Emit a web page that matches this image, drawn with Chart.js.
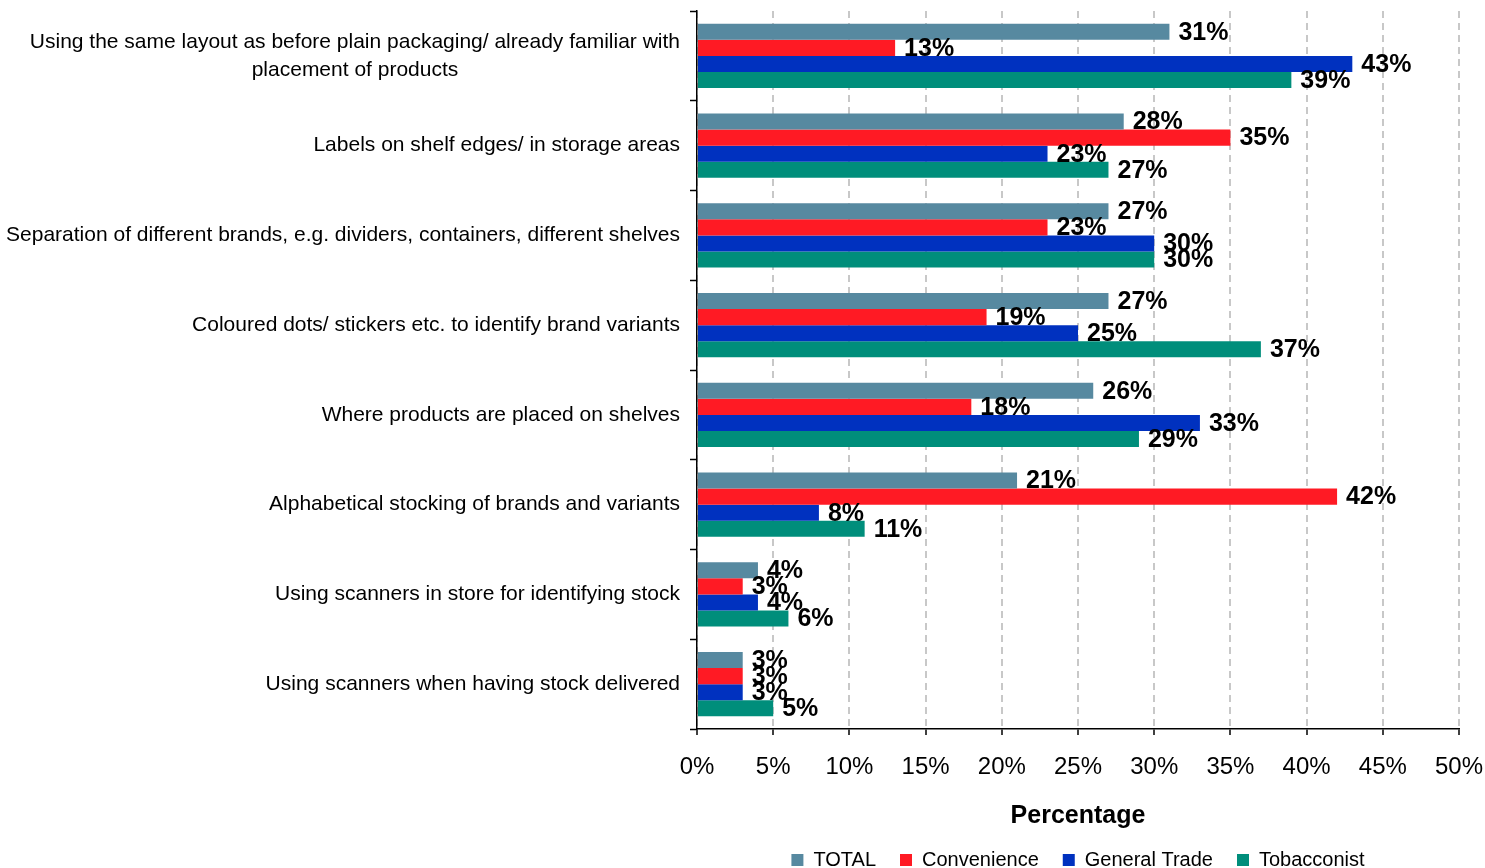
<!DOCTYPE html>
<html>
<head>
<meta charset="utf-8">
<script src="https://cdn.jsdelivr.net/npm/chart.js@4/dist/chart.umd.min.js"></script>
<style>
  html, body { margin: 0; padding: 0; background: #fff; overflow: hidden; }
  #wrap { width: 1485px; height: 880px; }
</style>
</head>
<body>
<div id="wrap"><canvas id="storeChart" width="1485" height="880"></canvas></div>
<script>
// second line of the first label is padded so it sits centred under the first line
const pad = '\u00a0'.repeat(38);
const categories = [
  ['Using the same layout as before plain packaging/ already familiar with', 'placement of products' + pad],
  'Labels on shelf edges/ in storage areas',
  'Separation of different brands, e.g. dividers, containers, different shelves',
  'Coloured dots/ stickers etc. to identify brand variants',
  'Where products are placed on shelves',
  'Alphabetical stocking of brands and variants',
  'Using scanners in store for identifying stock',
  'Using scanners when having stock delivered'
];
const totalValues       = [31, 28, 27, 27, 26, 21, 4, 3];
const convenienceValues = [13, 35, 23, 19, 18, 42, 3, 3];
const generalValues     = [43, 23, 30, 25, 33, 8, 4, 3];
const tobacconistValues = [39, 27, 30, 37, 29, 11, 6, 5];

// value labels at the end of each bar
const barLabels = {
  id: 'barLabels',
  afterDatasetsDraw(chart) {
    const ctx = chart.ctx;
    ctx.save();
    ctx.font = 'bold 25px "Liberation Sans", Arial, sans-serif';
    ctx.fillStyle = '#000';
    ctx.textBaseline = 'middle';
    ctx.textAlign = 'left';
    chart.data.datasets.forEach((ds, i) => {
      chart.getDatasetMeta(i).data.forEach((bar, j) => {
        ctx.fillText(ds.data[j] + '%', bar.x + 9, bar.y + 1);
      });
    });
    ctx.restore();
  }
};

const ctx = document.getElementById('storeChart').getContext('2d');
const storeChart = new Chart(ctx, {
  type: 'bar',
  data: {
    labels: categories,
    datasets: [
      { label: 'TOTAL', data: totalValues, backgroundColor: '#5789A0' },
      { label: 'Convenience', data: convenienceValues, backgroundColor: '#FF1A24' },
      { label: 'General Trade', data: generalValues, backgroundColor: '#0031BF' },
      { label: 'Tobacconist', data: tobacconistValues, backgroundColor: '#008E7B' }
    ]
  },
  plugins: [barLabels],
  options: {
    indexAxis: 'y',
    responsive: false,
    animation: false,
    datasets: {
      bar: { barPercentage: 1, categoryPercentage: 0.715 }
    },
    layout: { padding: { top: 11, right: 26, left: 0, bottom: 0 } },
    plugins: {
      tooltip: { enabled: false },
      legend: {
        position: 'bottom',
        fullSize: false,
        labels: {
          boxWidth: 12,
          boxHeight: 12,
          padding: 24,
          color: '#000',
          font: { family: '"Liberation Sans", Arial, sans-serif', size: 20 }
        }
      }
    },
    scales: {
      x: {
        min: 0,
        max: 50,
        afterFit(scale) {
          scale.height = 97;
          scale.paddingLeft = 0;
          scale.paddingRight = 0;
        },
        ticks: {
          stepSize: 5,
          padding: 18,
          color: '#000',
          font: { family: '"Liberation Sans", Arial, sans-serif', size: 24 },
          callback: v => v + '%'
        },
        grid: {
          color: '#c8c8c8',
          lineWidth: 2,
          tickColor: '#000',
          tickLength: 6,
          tickWidth: 1.5
        },
        border: { color: '#000', width: 1.5, dash: [7, 5] },
        title: {
          display: true,
          text: 'Percentage',
          color: '#000',
          padding: { top: 0, bottom: 2 },
          font: { family: '"Liberation Sans", Arial, sans-serif', size: 25, weight: 'bold', lineHeight: 0.6 }
        }
      },
      y: {
        afterFit(scale) {
          scale.width = 697;
          scale.paddingTop = 0;
          scale.paddingBottom = 0;
        },
        ticks: {
          padding: 10,
          color: '#000',
          font: { family: '"Liberation Sans", Arial, sans-serif', size: 21, lineHeight: 1.33 }
        },
        grid: {
          drawOnChartArea: false,
          color: '#000',
          tickLength: 7,
          tickWidth: 1.5
        },
        border: { color: '#000', width: 1.5 }
      }
    }
  }
});
</script>
</body>
</html>
